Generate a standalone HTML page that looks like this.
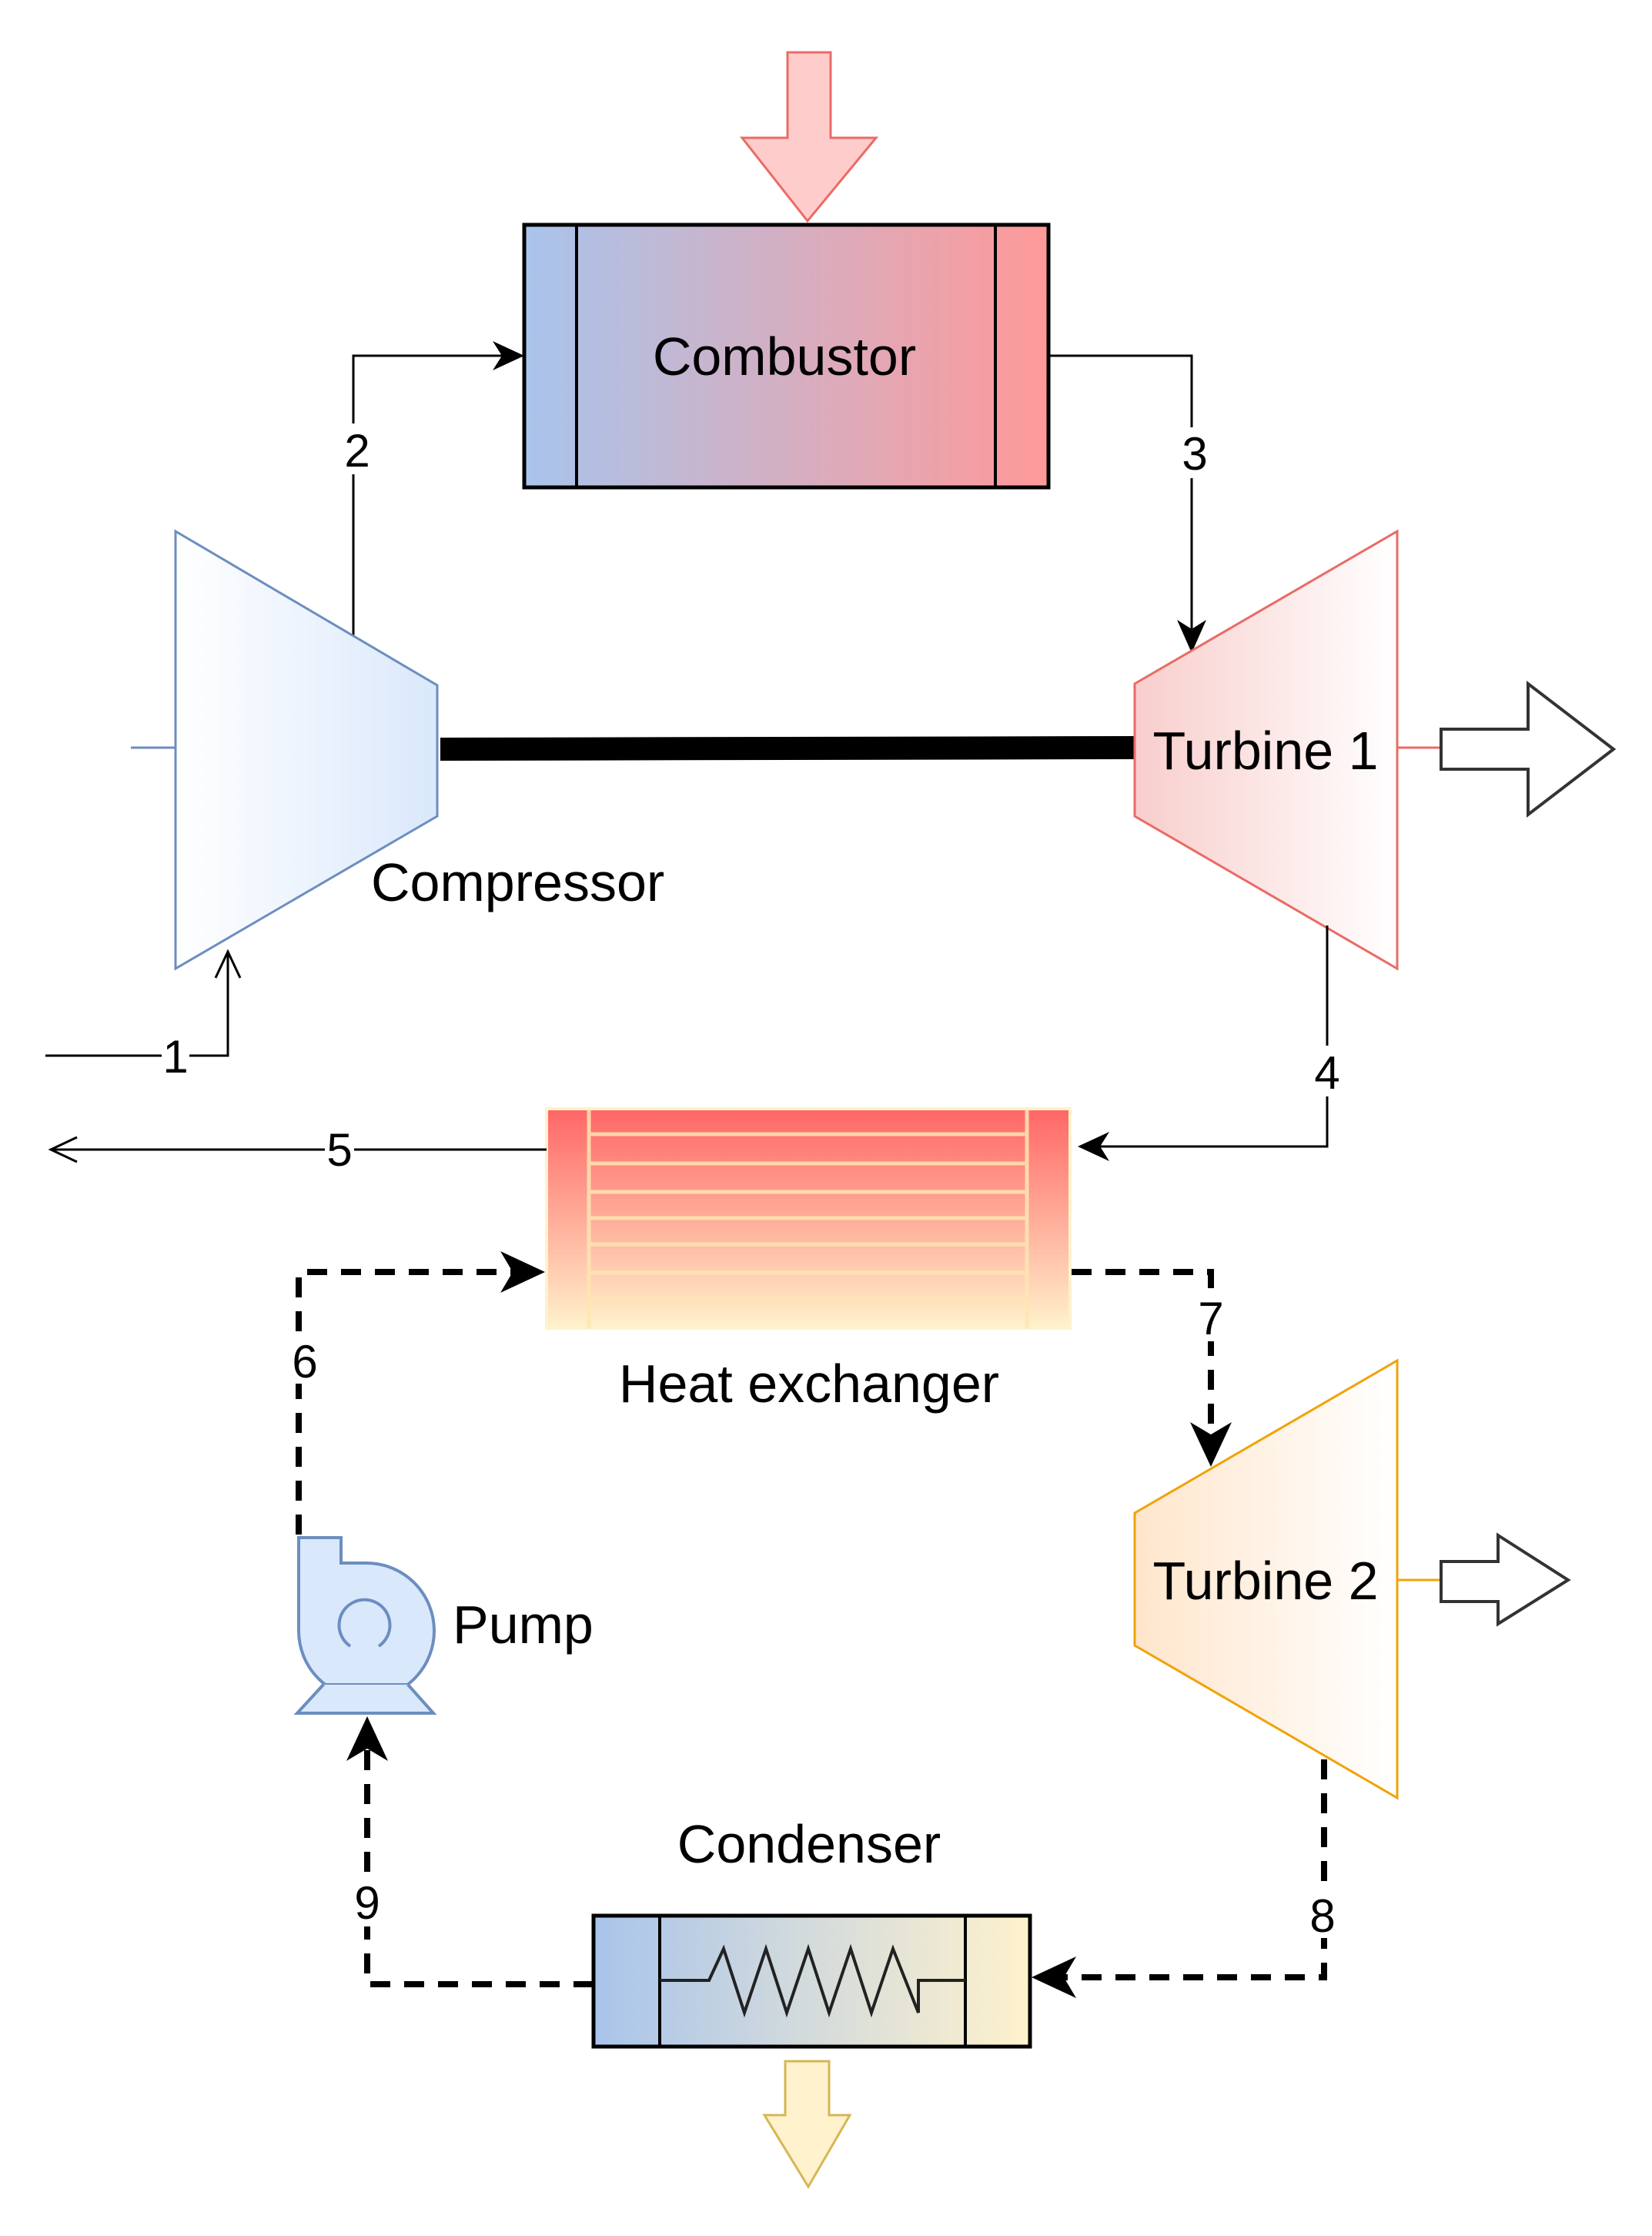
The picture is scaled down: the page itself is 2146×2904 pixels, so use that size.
<!DOCTYPE html>
<html><head><meta charset="utf-8"><style>
html,body{margin:0;padding:0;background:#fff;}
svg{display:block;}
text{font-family:"Liberation Sans",sans-serif;fill:#000;}
</style></head><body>
<svg width="2146" height="2904" viewBox="0 0 2146 2904" xmlns="http://www.w3.org/2000/svg">
<defs>
<linearGradient id="comb" x1="0" x2="1" y1="0" y2="0"><stop offset="0" stop-color="#a9c4eb"/><stop offset="1" stop-color="#ff9999"/></linearGradient>
<linearGradient id="comp" x1="0" x2="1"><stop offset="0" stop-color="#ffffff"/><stop offset="1" stop-color="#dae8fc"/></linearGradient>
<linearGradient id="t1" x1="0" x2="1"><stop offset="0" stop-color="#f8cecc"/><stop offset="1" stop-color="#ffffff"/></linearGradient>
<linearGradient id="t2" x1="0" x2="1"><stop offset="0" stop-color="#ffe6cc"/><stop offset="1" stop-color="#ffffff"/></linearGradient>
<linearGradient id="hx" x1="0" x2="0" y1="0" y2="1"><stop offset="0" stop-color="#ff6666"/><stop offset="1" stop-color="#fff2cc"/></linearGradient>
<linearGradient id="cond" x1="0" x2="1"><stop offset="0" stop-color="#a9c4eb"/><stop offset="1" stop-color="#fff2cc"/></linearGradient>
</defs>

<polygon points="1023,68 1079,68 1079,179 1138,179 1049,287 964,179 1023,179" fill="#ffcccc" stroke="#ea6b66" stroke-width="3"/>

<rect x="681" y="292" width="681" height="341" fill="url(#comb)" stroke="#000" stroke-width="5"/>
<line x1="749" y1="292" x2="749" y2="633" stroke="#000" stroke-width="4"/>
<line x1="1293" y1="292" x2="1293" y2="633" stroke="#000" stroke-width="4"/>
<text x="1019" y="487" font-size="70" text-anchor="middle">Combustor</text>

<polyline points="459,827 459,462 670,462" fill="none" stroke="#000" stroke-width="3"/>
<polygon points="681,462 640,443 652,462 640,481" fill="#000"/>
<rect x="440" y="550" width="40" height="66" fill="#fff"/>
<text x="464" y="606" font-size="60" text-anchor="middle">2</text>

<polyline points="1362,462 1548,462 1548,835" fill="none" stroke="#000" stroke-width="3"/>
<polygon points="1548,848 1529,805 1548,817 1567,805" fill="#000"/>
<rect x="1530" y="555" width="40" height="66" fill="#fff"/>
<text x="1552" y="610" font-size="60" text-anchor="middle">3</text>

<line x1="170" y1="971" x2="228" y2="971" stroke="#6c8ebf" stroke-width="3"/>
<polygon points="228,690 568,890 568,1060 228,1258" fill="url(#comp)" stroke="#6c8ebf" stroke-width="3"/>
<text x="482" y="1170" font-size="70">Compressor</text>

<polygon points="572,958 1474,956 1474,986 572,988" fill="#000"/>

<polygon points="1474,888 1815,690 1815,1258 1474,1060" fill="url(#t1)" stroke="#ea6b66" stroke-width="3"/>
<text x="1644" y="999" font-size="70" text-anchor="middle">Turbine 1</text>
<line x1="1815" y1="971" x2="1872" y2="971" stroke="#ea6b66" stroke-width="3"/>
<polygon points="1872,947 1985,947 1985,888 2096,973 1985,1058 1985,999 1872,999" fill="#fff" stroke="#333" stroke-width="4"/>

<polyline points="59,1371 296,1371 296,1240" fill="none" stroke="#000" stroke-width="3"/>
<polyline points="280,1270 296,1236 312,1270" fill="none" stroke="#000" stroke-width="3"/>
<rect x="210" y="1336" width="36" height="66" fill="#fff"/>
<text x="228" y="1393" font-size="60" text-anchor="middle">1</text>

<polyline points="1724,1202 1724,1489 1410,1489" fill="none" stroke="#000" stroke-width="3"/>
<polygon points="1400,1489 1441,1470 1429,1489 1441,1508" fill="#000"/>
<rect x="1704" y="1358" width="40" height="66" fill="#fff"/>
<text x="1724" y="1414" font-size="60" text-anchor="middle">4</text>

<rect x="710" y="1440" width="680" height="285" fill="url(#hx)" stroke="#fff2cc" stroke-width="4"/>
<g stroke="#ffe6b3" stroke-width="5" opacity="0.85">
<line x1="765" y1="1440" x2="765" y2="1725"/>
<line x1="1334" y1="1440" x2="1334" y2="1725"/>
<line x1="765" y1="1473" x2="1334" y2="1473"/>
<line x1="765" y1="1511" x2="1334" y2="1511"/>
<line x1="765" y1="1548" x2="1334" y2="1548"/>
<line x1="765" y1="1582" x2="1334" y2="1582"/>
<line x1="765" y1="1616" x2="1334" y2="1616"/>
<line x1="765" y1="1653" x2="1334" y2="1653"/>
<line x1="765" y1="1687" x2="1334" y2="1687"/>
</g>
<text x="1051" y="1821" font-size="70" text-anchor="middle">Heat exchanger</text>

<line x1="710" y1="1493" x2="68" y2="1493" stroke="#000" stroke-width="3"/>
<polyline points="100,1477 66,1493 100,1509" fill="none" stroke="#000" stroke-width="3"/>
<rect x="422" y="1458" width="38" height="66" fill="#fff"/>
<text x="441" y="1514" font-size="60" text-anchor="middle">5</text>

<g fill="none" stroke="#000" stroke-width="8" stroke-dasharray="26,18">
<polyline points="388,1993 388,1652 680,1652"/>
<polyline points="1392,1652 1573,1652 1573,1880"/>
<polyline points="1720,2285 1720,2568 1370,2568"/>
<polyline points="771,2577 477,2577 477,2262"/>
</g>
<polygon points="708,1652 650,1625 666,1652 650,1679" fill="#000"/>
<polygon points="1573,1905 1546,1847 1573,1863 1600,1847" fill="#000"/>
<polygon points="1340,2568 1398,2541 1382,2568 1398,2595" fill="#000"/>
<polygon points="477,2229 450,2287 477,2271 504,2287" fill="#000"/>
<rect x="375" y="1731" width="40" height="66" fill="#fff"/>
<text x="396" y="1789" font-size="60" text-anchor="middle">6</text>
<rect x="1553" y="1676" width="40" height="66" fill="#fff"/>
<text x="1573" y="1733" font-size="60" text-anchor="middle">7</text>
<rect x="1698" y="2451" width="40" height="66" fill="#fff"/>
<text x="1718" y="2509" font-size="60" text-anchor="middle">8</text>
<rect x="457" y="2436" width="40" height="66" fill="#fff"/>
<text x="477" y="2492" font-size="60" text-anchor="middle">9</text>

<polygon points="1474,1965 1815,1767 1815,2335 1474,2137" fill="url(#t2)" stroke="#f0a30a" stroke-width="3"/>
<text x="1644" y="2077" font-size="70" text-anchor="middle">Turbine 2</text>
<line x1="1815" y1="2052" x2="1872" y2="2052" stroke="#f0a30a" stroke-width="3"/>
<polygon points="1872,2028 1946,2028 1946,1994 2037,2052 1946,2109 1946,2080 1872,2080" fill="#fff" stroke="#333" stroke-width="4"/>

<path d="M388,1997 L443,1997 L443,2030 L475,2030 A88,88 0 1 1 388,2118 Z" fill="#dae8fc" stroke="#6c8ebf" stroke-width="4"/>
<polygon points="420,2188 386,2225 563,2225 530,2188" fill="#dae8fc" stroke="#6c8ebf" stroke-width="4"/>
<path d="M420,2188 A88,88 0 0 0 530,2188" fill="#dae8fc" stroke="none"/>
<path d="M455,2138 A33,33 0 1 1 492,2138" fill="none" stroke="#6c8ebf" stroke-width="4"/>
<text x="588" y="2134" font-size="70">Pump</text>

<rect x="771" y="2488" width="567" height="170" fill="url(#cond)" stroke="#000" stroke-width="5"/>
<line x1="857" y1="2488" x2="857" y2="2658" stroke="#000" stroke-width="4"/>
<line x1="1254" y1="2488" x2="1254" y2="2658" stroke="#000" stroke-width="4"/>
<polyline points="857,2572 921,2572 940,2531 967,2614 995,2531 1022,2614 1050,2531 1077,2614 1105,2531 1132,2614 1160,2531 1193,2614 1193,2572 1254,2572" fill="none" stroke="#222" stroke-width="4"/>
<text x="1051" y="2419" font-size="70" text-anchor="middle">Condenser</text>

<polygon points="1020,2677 1077,2677 1077,2747 1104,2747 1050,2840 993,2747 1020,2747" fill="#fff2cc" stroke="#d6b656" stroke-width="3"/>
</svg>
</body></html>
